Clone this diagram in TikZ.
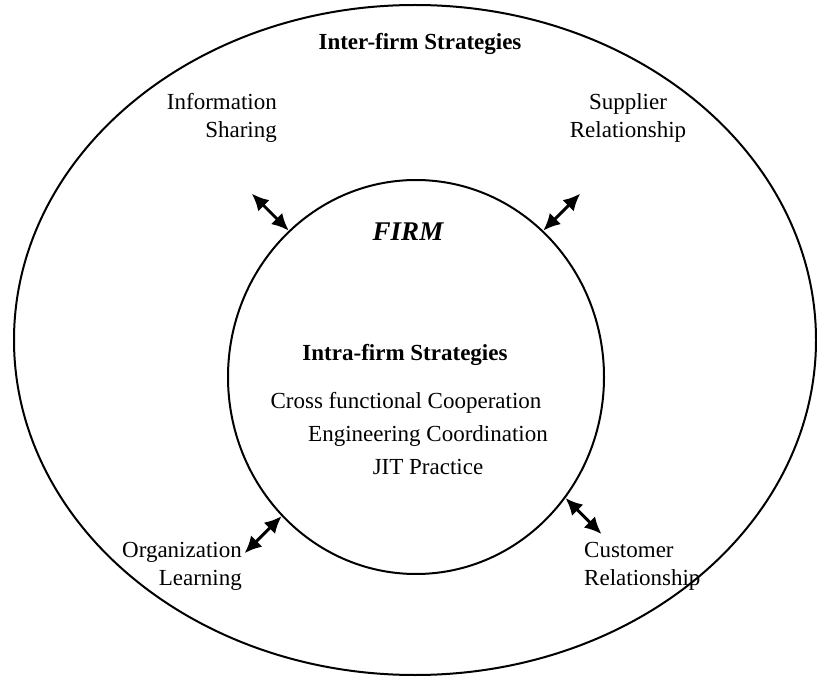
\documentclass[tikz,border=0pt]{standalone}
\usepackage{fontspec}
\setmainfont{Liberation Serif}
\usetikzlibrary{arrows.meta,shapes.geometric}
\tikzset{
    txt/.style={font=\fontsize{23}{28}\selectfont, inner sep=0pt},
    head/.style={font=\bfseries\fontsize{23}{28}\selectfont, inner sep=0pt},
    link/.style={line width=3pt, {Latex[length=17pt,width=16pt]}-{Latex[length=17pt,width=16pt]}}
}
\begin{document}
\begin{tikzpicture}[x=1pt,y=-1pt]
    \useasboundingbox (0,0) rectangle (817,679);
    % outer ring and the firm
    \draw[line width=2pt] (415,340) ellipse [x radius=401, y radius=335];
    \node[ellipse, draw, line width=2pt, minimum width=376pt, minimum height=394pt, inner sep=0pt] (firm) at (416,377) {};
    \node[head] (inter) at (420,44) {Inter-firm Strategies};
    \node[txt, font=\bfseries\itshape\fontsize{27}{32}\selectfont] (name) at (408,232) {FIRM};
    \node[head] (intra) at (405,355) {Intra-firm Strategies};
    \node[txt] (cross) at (406,403) {Cross functional Cooperation};
    \node[txt] (eng) at (428,436) {Engineering Coordination};
    \node[txt] (jit) at (428,467) {JIT Practice};
    % the four links
    \node[txt, align=right, anchor=east] (info) at (277,118) {Information\\Sharing};
    \node[txt, align=center] (supp) at (628,118) {Supplier\\Relationship};
    \node[txt, align=right, anchor=east] (org) at (242,566) {Organization\\Learning};
    \node[txt, align=left, anchor=west] (cust) at (584,566) {Customer\\Relationship};
    \coordinate (info-a) at ([shift={(-37,-37)}]firm.131);
    \coordinate (supp-a) at ([shift={(37,-37)}]firm.49);
    \coordinate (org-a) at ([shift={(-37,37)}]firm.226);
    \coordinate (cust-a) at ([shift={(36,36)}]firm.321);
    \draw[link] (info-a) -- (firm.131);
    \draw[link] (supp-a) -- (firm.49);
    \draw[link] (org-a) -- (firm.226);
    \draw[link] (cust-a) -- (firm.321);
\end{tikzpicture}
\end{document}
